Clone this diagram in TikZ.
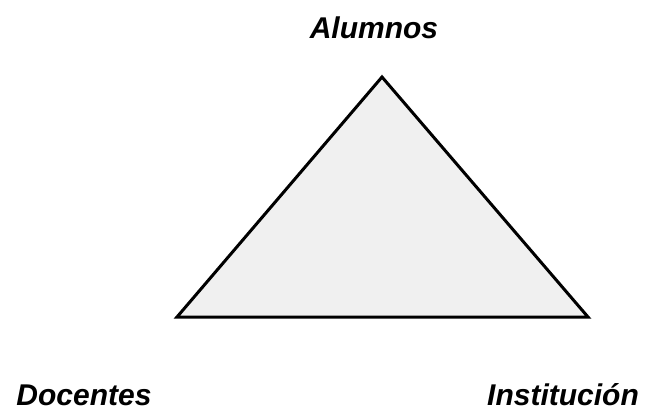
\documentclass[tikz,border=0pt]{standalone}
\usepackage{fontspec}
\setmainfont{Liberation Sans}
\definecolor{trifill}{HTML}{F0F0F0}
\tikzset{lbl/.style={anchor=base,inner sep=0pt,font=\fontsize{30}{36}\selectfont\bfseries\itshape}}
\begin{document}
\begin{tikzpicture}[x=1pt,y=-1pt]
\useasboundingbox (0,0) rectangle (648,410);
\coordinate (top) at (382,77);
\coordinate (bl) at (177,317);
\coordinate (br) at (588,317);
\draw[line width=3pt,fill=trifill,line join=miter] (top) -- (br) -- (bl) -- cycle;
\node[lbl] (alumnos) at (374,38) {Alumnos};
\node[lbl] (docentes) at (84,405) {Docentes};
\node[lbl] (inst) at (563,405) {Institución};
\end{tikzpicture}
\end{document}
